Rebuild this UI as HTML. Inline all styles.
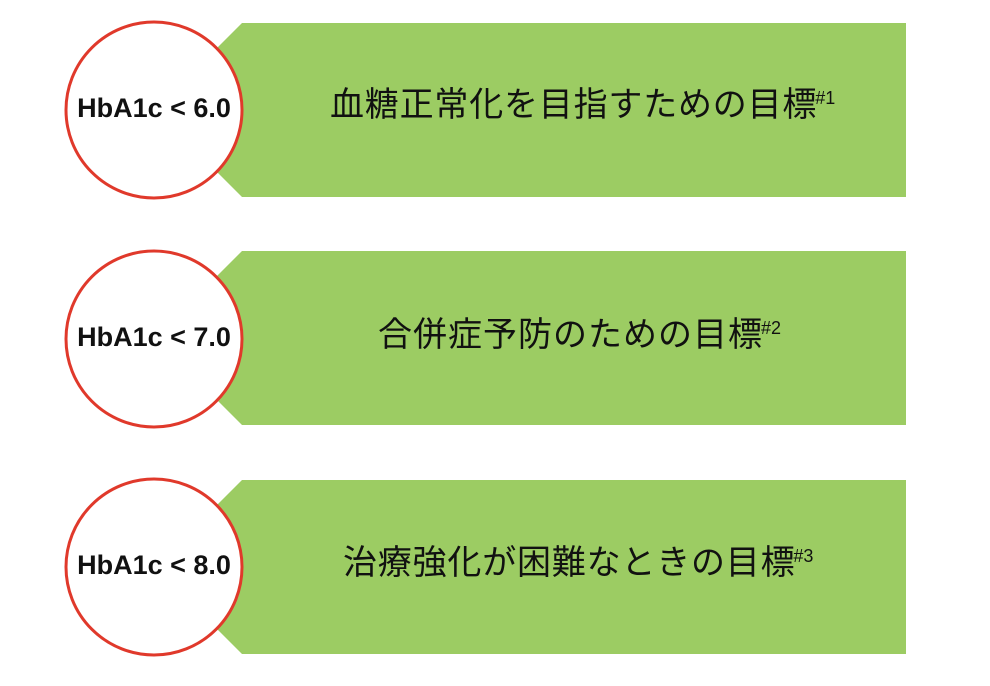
<!DOCTYPE html>
<html><head><meta charset="utf-8"><style>
body{margin:0;background:#fff;width:990px;height:686px;overflow:hidden;position:relative;font-family:"Liberation Sans","Noto Sans CJK JP",sans-serif}
svg{position:absolute;left:0;top:0}
.t{position:absolute;font-size:34px;color:#111;white-space:nowrap;line-height:1;font-family:"Liberation Sans","Noto Sans CJK JP",sans-serif}
.t sup{font-size:18px;letter-spacing:0;vertical-align:0;position:relative;top:-12px;margin-left:-2px}
.c{position:absolute;width:180px;text-align:center;font-weight:bold;font-size:27px;line-height:1;color:#111}
</style></head><body>
<svg width="990" height="686">
<g fill="#9ccc63">
<polygon points="242,23 906,23 906,197 242,197 155,110"/>
<polygon points="242,251 906,251 906,425 242,425 155,338"/>
<polygon points="242,480 906,480 906,654 242,654 155,567"/>
</g>
<g fill="#fff" stroke="#e0392b" stroke-width="3">
<circle cx="154" cy="110" r="88"/>
<circle cx="154" cy="339" r="88"/>
<circle cx="154" cy="567" r="88"/>
</g>
</svg>
<div class="c" style="left:64px;top:95px">HbA1c &lt; 6.0</div>
<div class="c" style="left:64px;top:324px">HbA1c &lt; 7.0</div>
<div class="c" style="left:64px;top:552px">HbA1c &lt; 8.0</div>
<div class="t" style="left:330px;top:88px;letter-spacing:0.8px">血糖正常化を目指すための目標<sup>#1</sup></div>
<div class="t" style="left:378px;top:318px;letter-spacing:1px">合併症予防のための目標<sup>#2</sup></div>
<div class="t" style="left:343px;top:546px;letter-spacing:0.8px">治療強化が困難なときの目標<sup>#3</sup></div>
</body></html>
